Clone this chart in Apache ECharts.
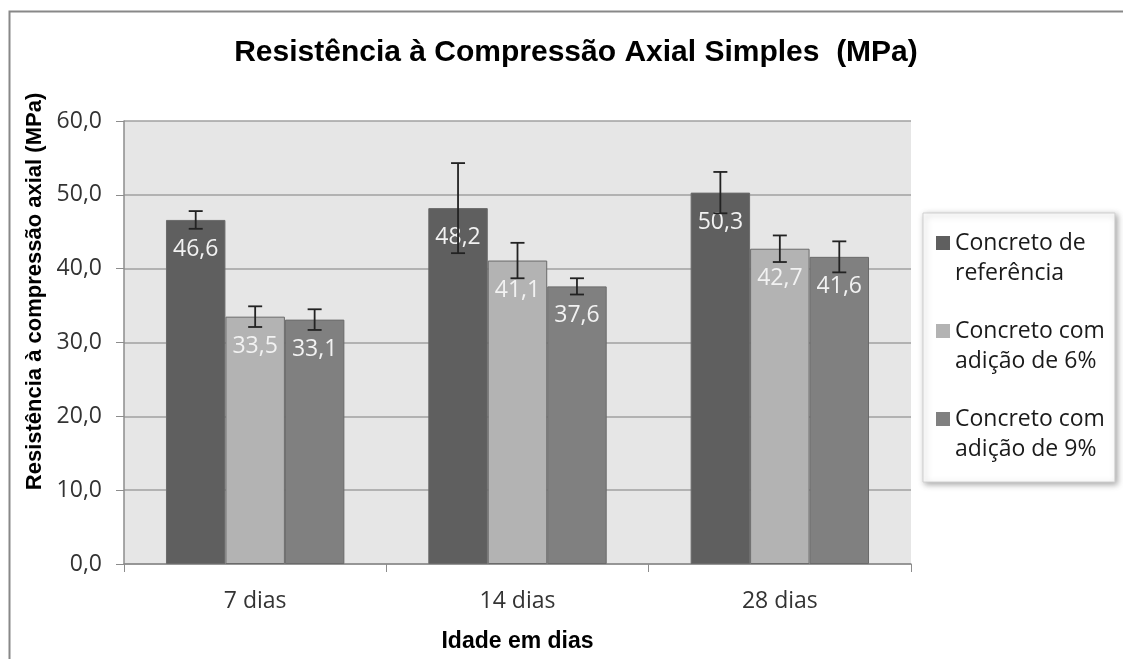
<!DOCTYPE html>
<html>
<head>
<meta charset="utf-8">
<script src="https://cdn.jsdelivr.net/npm/echarts@6/dist/echarts.min.js"></script>
<style>
  html, body { margin: 0; padding: 0; background: #fff; }
  #chart { width: 1123px; height: 659px; }
</style>
</head>
<body>
<div id="chart"></div>
<script>
  // dados
  const categories = ['7 dias', '14 dias', '28 dias'];
  const seriesNames = ['Concreto de referência', 'Concreto com adição de 6%', 'Concreto com adição de 9%'];
  const legendLines = ['Concreto de\nreferência', 'Concreto com\nadição de 6%', 'Concreto com\nadição de 9%'];
  const refValues = [46.6, 48.2, 50.3];
  const add6Values = [33.5, 41.1, 42.7];
  const add9Values = [33.1, 37.6, 41.6];
  const refErr = [1.2, 6.1, 2.8];
  const add6Err = [1.4, 2.4, 1.8];
  const add9Err = [1.4, 1.1, 2.1];
  const yTicks = [0, 10, 20, 30, 40, 50, 60];

  const colors = ['#5f5f5f', '#b3b3b3', '#808080'];
  const values = [refValues, add6Values, add9Values];
  const errs = [refErr, add6Err, add9Err];
  const catGap = 0.32;

  let chart = echarts.init(document.getElementById('chart'));

  let fmt = v => v.toFixed(1).replace('.', ',');

  let barSeries = values.map((vals, s) => ({
    name: seriesNames[s],
    type: 'bar',
    data: vals,
    barGap: '0%',
    barCategoryGap: (catGap * 100) + '%',
    itemStyle: { color: colors[s], borderColor: '#6a6a6a', borderWidth: 1 },
    label: {
      show: true,
      position: 'insideTop',
      distance: 18,
      formatter: p => fmt(p.value),
      color: '#f2f2f2',
      fontFamily: 'Open Sans',
      fontSize: 23
    },
    z: 2
  }));

  let errData = [];
  values.forEach((vals, s) => {
    vals.forEach((v, i) => {
      errData.push([i, v - errs[s][i], v + errs[s][i], s]);
    });
  });

  let errSeries = {
    type: 'custom',
    name: 'erro',
    data: errData,
    z: 10,
    silent: true,
    renderItem: function (params, api) {
      let cat = api.value(0);
      let s = api.value(3);
      let lo = api.coord([cat, api.value(1)]);
      let hi = api.coord([cat, api.value(2)]);
      let catW = api.size([1, 0])[0];
      let barW = catW * (1 - catGap) / 3;
      let x = lo[0] + (s - 1) * barW;
      let cap = 7;
      let style = { stroke: '#222', lineWidth: 1.8 };
      return {
        type: 'group',
        children: [
          { type: 'line', shape: { x1: x, y1: hi[1], x2: x, y2: lo[1] }, style },
          { type: 'line', shape: { x1: x - cap, y1: hi[1], x2: x + cap, y2: hi[1] }, style },
          { type: 'line', shape: { x1: x - cap, y1: lo[1], x2: x + cap, y2: lo[1] }, style }
        ]
      };
    }
  };

  let option = {
    animation: false,
    backgroundColor: '#fff',
    title: {
      text: 'Resistência à Compressão Axial Simples  (MPa)',
      left: 571,
      textAlign: 'center',
      top: 33,
      textStyle: { fontFamily: 'Liberation Sans', fontSize: 30, fontWeight: 'bold', color: '#000' }
    },
    graphic: [
      {
        type: 'rect',
        shape: { x: 9.5, y: 11.5, width: 1140, height: 700 },
        style: { fill: 'none', stroke: '#888', lineWidth: 2 },
        z: 0, silent: true
      }
    ],
    legend: {
      data: seriesNames,
      orient: 'vertical',
      left: 923,
      top: 213,
      padding: [15, 10, 18, 13],
      itemGap: 28,
      itemWidth: 14,
      itemHeight: 44,
      itemTextGap: 7,
      icon: 'path://M0,0L14,0L14,14L0,14Z M0,44L0.01,44L0.01,44Z',
      itemStyle: { borderWidth: 0 },
      backgroundColor: '#fff',
      borderColor: '#d0d0d0',
      borderWidth: 1,
      shadowColor: 'rgba(0,0,0,0.35)',
      shadowBlur: 6,
      shadowOffsetX: 2,
      shadowOffsetY: 2,
      formatter: name => legendLines[seriesNames.indexOf(name)],
      textStyle: { fontFamily: 'Open Sans', fontSize: 23, color: '#1a1a1a', lineHeight: 30 }
    },
    grid: { left: 124, right: 212, top: 121, bottom: 95 },
    xAxis: {
      type: 'category',
      data: categories,
      name: 'Idade em dias',
      nameLocation: 'middle',
      nameGap: 66,
      nameTextStyle: { fontFamily: 'Liberation Sans', fontSize: 23, fontWeight: 'bold', color: '#000' },
      axisLine: { lineStyle: { color: '#8c8c8c', width: 1.5 } },
      axisTick: { show: true, length: 8, lineStyle: { color: '#8c8c8c' } },
      axisLabel: { fontFamily: 'Open Sans', fontSize: 23, color: '#333', margin: 26 }
    },
    yAxis: {
      type: 'value',
      min: yTicks[0],
      max: yTicks[yTicks.length - 1],
      interval: 10,
      name: 'Resistência à compressão axial (MPa)',
      nameLocation: 'middle',
      nameGap: 78,
      nameTextStyle: { fontFamily: 'Liberation Sans', fontSize: 22, fontWeight: 'bold', color: '#000', padding: [0, 0, 0, 102] },
      axisLine: { show: true, lineStyle: { color: '#8c8c8c', width: 1.5 } },
      axisTick: { show: true, length: 8, lineStyle: { color: '#8c8c8c' } },
      axisLabel: { formatter: v => fmt(v), fontFamily: 'Open Sans', fontSize: 23, color: '#333', margin: 22 },
      splitLine: { lineStyle: { color: '#a0a0a0', width: 1.5 } },
      splitArea: { show: true, areaStyle: { color: ['#e6e6e6', '#e6e6e6'] } }
    },
    series: barSeries.concat([errSeries])
  };

  chart.setOption(option);
</script>
</body>
</html>
